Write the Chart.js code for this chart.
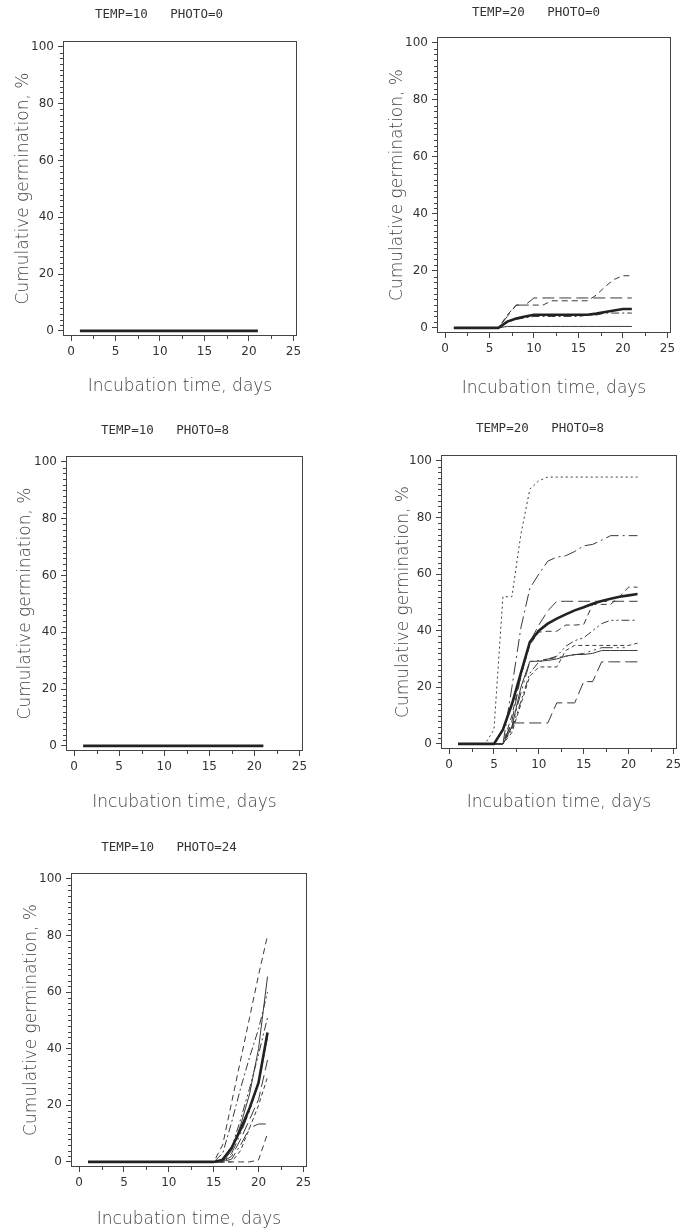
<!DOCTYPE html>
<html>
<head>
<meta charset="utf-8">
<title>Cumulative germination</title>
<script src="https://cdn.jsdelivr.net/npm/chart.js@4.4.1/dist/chart.umd.min.js"></script>
<style>
  html, body { margin: 0; padding: 0; background: #fff; overflow: hidden; }
  body { position: relative; width: 682px; height: 1231px; }
  canvas { position: absolute; }
</style>
</head>
<body>
<canvas id="p1"></canvas>
<canvas id="p2"></canvas>
<canvas id="p3"></canvas>
<canvas id="p4"></canvas>
<canvas id="p5"></canvas>
<script>
// incubation days and axis ticks
const days = [1,2,3,4,5,6,7,8,9,10,11,12,13,14,15,16,17,18,19,20,21];
const xTickValues = [0,5,10,15,20,25];
const yTickValues = [0,20,40,60,80,100];

// TEMP=10 PHOTO=0
const t10p0Mean = [0,0,0,0,0,0,0,0,0,0,0,0,0,0,0,0,0,0,0,0,0];

// TEMP=20 PHOTO=0
const t20p0Mean  = [0,0,0,0,0,0,2.2,3.3,4.0,4.6,4.6,4.6,4.6,4.6,4.6,4.6,5.0,5.6,6.1,6.6,6.6];
const t20p0RepA  = [0,0,0,0,0,0,4,8,8,10.5,10.5,10.5,10.5,10.5,10.5,10.5,10.5,10.5,10.5,10.5,10.5];
const t20p0RepB  = [0,0,0,0,0,0,4.5,8,8,8,8,9.5,9.5,9.5,9.5,9.5,11.5,14.5,17,18.3,18.3];
const t20p0RepC  = [0,0,0,0,0,0,2,3,3.5,4,4,4,4,4,4,4.5,4.5,5.2,5.2,5.2,5.2];
const t20p0RepD  = [0,0,0,0,0,0,0.5,0.5,0.5,0.5,0.5,0.5,0.5,0.5,0.5,0.5,0.5,0.5,0.5,0.5,0.5];

// TEMP=10 PHOTO=8
const t10p8Mean = [0,0,0,0,0,0,0,0,0,0,0,0,0,0,0,0,0,0,0,0,0];

// TEMP=20 PHOTO=8
const t20p8Mean  = [0,0,0,0,0,5,14,25,36,40,42.5,44.3,45.8,47.2,48.3,49.5,50.5,51.3,52,52.5,53];
const t20p8RepA  = [0,0,0,0,5,52,52,74,90,93,94.3,94.3,94.3,94.3,94.3,94.3,94.3,94.3,94.3,94.3,94.3];
const t20p8RepB  = [0,0,0,0,0,0,20,41,55,60,64.6,66,66.5,68,70,70.5,72,73.6,73.6,73.6,73.6];
const t20p8RepC  = [0,0,0,0,0,0,10,24,35,39.5,39.8,39.8,42,42,42.2,49.3,49.3,49.3,52,55.4,55.4];
const t20p8RepD  = [0,0,0,0,0,0,8,24,36,42,47,50.4,50.4,50.4,50.4,50.4,50.4,50.4,50.4,50.4,50.4];
const t20p8RepE  = [0,0,0,0,0,0,5,15,25,29,30,31,34.5,36.5,37.5,40,42.5,43.7,43.7,43.7,43.7];
const t20p8RepF  = [0,0,0,0,0,0,4,14,24,27.2,27.2,27.2,33,34.8,34.8,34.8,34.8,34.8,34.8,34.8,35.6];
const t20p8RepG  = [0,0,0,0,0,0,6,18,29,29.5,30,30.5,31,31.5,32,33,34,34,34,34,null];
const t20p8RepH  = [0,0,0,0,0,0,7.4,7.4,7.4,7.4,7.4,14.5,14.5,14.5,22,22,29,29,29,29,29];
const t20p8RepI  = [0,0,0,0,0,0,6,20,29.2,29.2,29.5,30,31,31.6,31.6,32,33,33,33,33,33];

// TEMP=10 PHOTO=24
const t10p24Mean = [0,0,0,0,0,0,0,0,0,0,0,0,0,0,0,0.8,5,11.5,19,28,45.7];
const t10p24RepA = [0,0,0,0,0,0,0,0,0,0,0,0,0,0,0,6,21,36,51,66,80];
const t10p24RepB = [0,0,0,0,0,0,0,0,0,0,0,0,0,0,0,3,14,26,37,47,60];
const t10p24RepC = [0,0,0,0,0,0,0,0,0,0,0,0,0,0,0,0,4,13,24,40,65.5];
const t10p24RepD = [0,0,0,0,0,0,0,0,0,0,0,0,0,0,0,0,5,15,26,38,51];
const t10p24RepE = [0,0,0,0,0,0,0,0,0,0,0,0,0,0,0,0,2,8,15,22,36];
const t10p24RepF = [0,0,0,0,0,0,0,0,0,0,0,0,0,0,0,0,0,4,12,20,30];
const t10p24RepG = [0,0,0,0,0,0,0,0,0,0,0,0,0,0,0,0,1,6,12,13.4,13.4];
const t10p24RepH = [0,0,0,0,0,0,0,0,0,0,0,0,0,0,0,0,0,0,0,0.7,10];
const t10p24RepI = [0,0,0,0,0,0,0,0,0,0,0,0,0,0,0,0,3,10,18,28,44];

const lineStyles = {
  mean:           { width: 2.6, dash: [] },
  solid:          { width: 1, dash: [] },
  dotted:         { width: 1, dash: [2, 3] },
  shortDash:      { width: 1, dash: [4, 3] },
  dash:           { width: 1, dash: [6, 4] },
  longDash:       { width: 1, dash: [12, 5] },
  dashDot:        { width: 1, dash: [8, 3, 2, 3] },
  longDashDot:    { width: 1, dash: [13, 4, 2, 4] },
  dashDotDot:     { width: 1, dash: [8, 3, 2, 3, 2, 3] },
  longDashDotDot: { width: 1, dash: [13, 4, 2, 4, 2, 4] }
};

const INK = '#333';
const TITLE_FONT = { family: '"DejaVu Sans Mono", monospace', size: 12.5, weight: 'normal' };
const AXIS_TITLE_FONT = { family: '"DejaVu Sans", sans-serif', size: 17, weight: 300 };
const TICK_FONT = { family: '"DejaVu Sans", sans-serif', size: 12 };

// canvas = [left, top, width, height], area = [left, top, right, bottom] of the framed box
const panels = [
  { id: 'p1', title: 'TEMP=10   PHOTO=0', canvas: [0, 0, 318, 400], area: [63, 41, 297, 336],
    titleY: 14.7, yTitleX: 24, xTitleY: 387,
    lines: [[t10p0Mean, 'mean']] },
  { id: 'p2', title: 'TEMP=20   PHOTO=0', canvas: [385, 0, 302, 400], area: [437, 37, 671, 333],
    titleY: 12.5, yTitleX: 398, xTitleY: 389,
    lines: [[t20p0Mean, 'mean'], [t20p0RepA, 'longDash'], [t20p0RepB, 'dash'], [t20p0RepC, 'dashDot'], [t20p0RepD, 'solid']] },
  { id: 'p3', title: 'TEMP=10   PHOTO=8', canvas: [0, 410, 330, 410], area: [66, 456, 303, 751],
    titleY: 431, yTitleX: 26, xTitleY: 803,
    lines: [[t10p8Mean, 'mean']] },
  { id: 'p4', title: 'TEMP=20   PHOTO=8', canvas: [392, 410, 296, 410], area: [441, 455, 677, 749],
    titleY: 429, yTitleX: 404, xTitleY: 803,
    lines: [[t20p8Mean, 'mean'], [t20p8RepA, 'dotted'], [t20p8RepB, 'longDashDot'], [t20p8RepC, 'dash'],
            [t20p8RepD, 'longDash'], [t20p8RepE, 'dashDotDot'], [t20p8RepF, 'shortDash'],
            [t20p8RepG, 'longDashDotDot'], [t20p8RepH, 'longDash'], [t20p8RepI, 'solid']] },
  { id: 'p5', title: 'TEMP=10   PHOTO=24', canvas: [0, 825, 338, 406], area: [71, 873, 307, 1167],
    titleY: 847.5, yTitleX: 32, xTitleY: 1220,
    lines: [[t10p24Mean, 'mean'], [t10p24RepA, 'dash'], [t10p24RepB, 'dashDot'], [t10p24RepC, 'solid'],
            [t10p24RepD, 'dashDotDot'], [t10p24RepE, 'longDash'], [t10p24RepF, 'shortDash'],
            [t10p24RepG, 'longDashDot'], [t10p24RepH, 'dash'], [t10p24RepI, 'longDashDotDot']] }
];

// frame round the plot area plus minor ticks on both axes
const framePlugin = {
  id: 'frame',
  afterDraw(chart) {
    const { ctx, chartArea: a, scales: { x, y } } = chart;
    ctx.save();
    ctx.strokeStyle = '#444';
    ctx.lineWidth = 1;
    ctx.strokeRect(Math.round(a.left) + 0.5, Math.round(a.top) + 0.5,
                   Math.round(a.right - a.left) - 1, Math.round(a.bottom - a.top) - 1);
    ctx.beginPath();
    for (let v = 2; v < 100; v += 2) {
      if (v % 20 === 0) continue;
      const py = Math.round(y.getPixelForValue(v)) + 0.5;
      ctx.moveTo(a.left - 3, py);
      ctx.lineTo(a.left, py);
    }
    for (let v = 2.5; v < 25; v += 5) {
      const px = Math.round(x.getPixelForValue(v)) + 0.5;
      ctx.moveTo(px, a.bottom);
      ctx.lineTo(px, a.bottom + 3);
    }
    ctx.stroke();
    ctx.restore();
  }
};

panels.forEach(p => {
  const [cx, cy, cw, ch] = p.canvas;
  const [L, T, R, B] = p.area;
  const el = document.getElementById(p.id);
  el.width = cw;
  el.height = ch;
  el.style.left = cx + 'px';
  el.style.top = cy + 'px';

  const titleLH = TITLE_FONT.size * 1.2;
  const axisLH = AXIS_TITLE_FONT.size * 1.2;
  const tPadTop = p.titleY - cy - titleLH / 2;
  const tPadBottom = T - cy - tPadTop - titleLH;

  new Chart(el, {
    type: 'line',
    data: {
      datasets: p.lines.map(([vals, styleName]) => {
        const st = lineStyles[styleName];
        return {
          data: days.map((d, i) => ({ x: d, y: vals[i] })),
          borderColor: styleName === 'mean' ? '#222' : '#3a3a3a',
          borderWidth: st.width,
          borderDash: st.dash,
          pointRadius: 0,
          tension: 0,
          fill: false,
          spanGaps: false
        };
      })
    },
    options: {
      responsive: false,
      animation: false,
      events: [],
      layout: { padding: 0 },
      plugins: {
        legend: { display: false },
        tooltip: { enabled: false },
        title: {
          display: true,
          text: p.title,
          color: INK,
          font: TITLE_FONT,
          padding: { top: tPadTop, bottom: tPadBottom }
        }
      },
      scales: {
        x: {
          type: 'linear',
          position: 'bottom',
          min: -0.9,
          max: 25.4,
          afterBuildTicks: s => { s.ticks = xTickValues.map(v => ({ value: v })); },
          afterFit: s => { s.height = cy + ch - B; },
          grid: { display: true, drawOnChartArea: false, drawTicks: true, tickLength: 5, color: '#444' },
          border: { display: false },
          ticks: { color: INK, font: TICK_FONT, padding: 4, maxRotation: 0, autoSkip: false },
          title: {
            display: true,
            text: 'Incubation time, days',
            color: '#444',
            font: AXIS_TITLE_FONT,
            padding: { top: 0, bottom: cy + ch - p.xTitleY - axisLH / 2 }
          }
        },
        y: {
          type: 'linear',
          position: 'left',
          min: -1.8,
          max: 102.1,
          afterBuildTicks: s => { s.ticks = yTickValues.map(v => ({ value: v })); },
          afterFit: s => { s.width = L - cx; },
          grid: { display: true, drawOnChartArea: false, drawTicks: true, tickLength: 5, color: '#444' },
          border: { display: false },
          ticks: { color: INK, font: TICK_FONT, padding: 4 },
          title: {
            display: true,
            text: 'Cumulative germination, %',
            color: '#444',
            font: AXIS_TITLE_FONT,
            padding: { top: p.yTitleX - cx - axisLH / 2, bottom: 0 }
          }
        },
        yRight: {
          type: 'linear',
          position: 'right',
          display: true,
          afterFit: s => { s.width = cx + cw - R; },
          grid: { display: false },
          border: { display: false },
          ticks: { display: false }
        }
      }
    },
    plugins: [framePlugin]
  });
});
</script>
</body>
</html>
